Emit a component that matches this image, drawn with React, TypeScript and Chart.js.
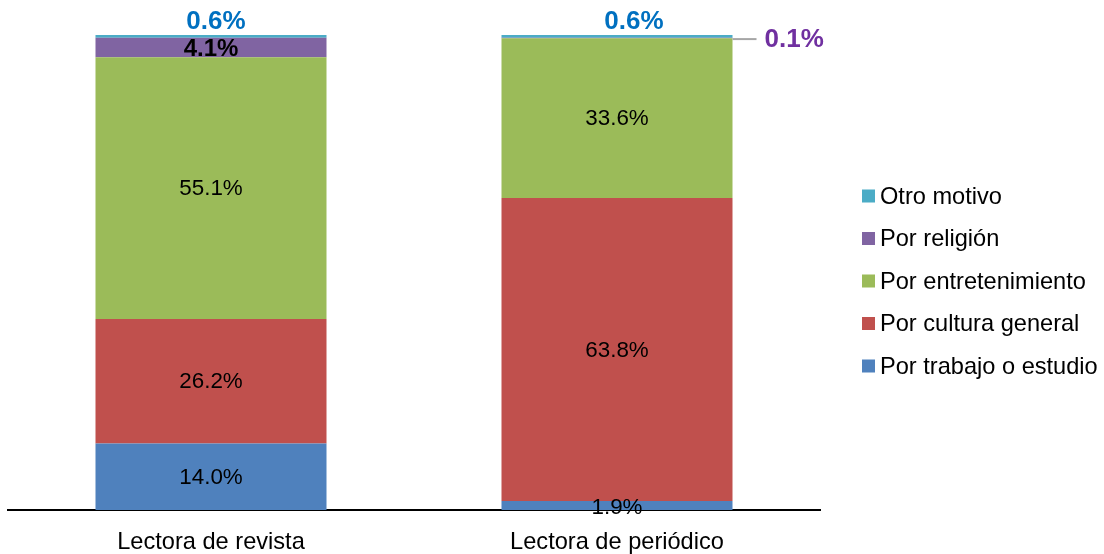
import React, { useEffect, useRef } from "react";
import { Chart, registerables } from "chart.js";

Chart.register(...registerables);

const categories = ["Lectora de revista", "Lectora de periódico"];
const seriesNames = [
  "Por trabajo o estudio",
  "Por cultura general",
  "Por entretenimiento",
  "Por religión",
  "Otro motivo",
];
const trabajo = [14.0, 1.9];
const cultura = [26.2, 63.8];
const entretenimiento = [55.1, 33.6];
const religion = [4.1, 0.1];
const otro = [0.6, 0.6];

const colors = ["#4F81BD", "#C0504D", "#9BBB59", "#8064A2", "#4BACC6"];
const FONT = "'Liberation Sans', Arial, sans-serif";

const labelsPlugin = {
  id: "segLabels",
  afterDatasetsDraw(chart: any) {
    const ctx = chart.ctx;
    ctx.save();
    ctx.textAlign = "center";
    ctx.textBaseline = "middle";
    chart.data.datasets.forEach((ds: any, di: number) => {
      const meta = chart.getDatasetMeta(di);
      meta.data.forEach((el: any, i: number) => {
        const v = ds.data[i];
        const txt = v.toFixed(1) + "%";
        const cx = el.x;
        const cy = (el.y + el.base) / 2;
        if (di === 4) {
          ctx.font = `bold 26px ${FONT}`;
          ctx.fillStyle = "#0070C0";
          ctx.fillText(txt, cx + (i === 0 ? 5 : 17), el.y - 13);
        } else if (di === 3 && i === 1) {
          const right = el.x + el.width / 2;
          ctx.strokeStyle = "#A6A6A6";
          ctx.lineWidth = 2;
          ctx.beginPath();
          ctx.moveTo(right, cy + 1);
          ctx.lineTo(right + 24, cy + 1);
          ctx.stroke();
          ctx.font = `bold 26px ${FONT}`;
          ctx.fillStyle = "#7030A0";
          ctx.textAlign = "left";
          ctx.fillText(txt, right + 32, cy + 2);
          ctx.textAlign = "center";
        } else if (di === 3) {
          ctx.font = `bold 24px ${FONT}`;
          ctx.fillStyle = "#000";
          ctx.fillText(txt, cx, cy + 2);
        } else {
          ctx.font = `22.4px ${FONT}`;
          ctx.fillStyle = "#000";
          ctx.fillText(txt, cx, cy + (i === 1 && di === 0 ? 2 : 1));
        }
      });
    });
    ctx.restore();
  },
};

const legendPlugin = {
  id: "customLegend",
  afterDraw(chart: any) {
    const ctx = chart.ctx;
    ctx.save();
    ctx.font = `23.6px ${FONT}`;
    ctx.textBaseline = "middle";
    ctx.textAlign = "left";
    const n = chart.data.datasets.length;
    for (let k = 0; k < n; k++) {
      const di = n - 1 - k;
      const ds = chart.data.datasets[di];
      const y = 196 + k * 42.5;
      ctx.fillStyle = ds.backgroundColor;
      ctx.fillRect(862, y - 6.5, 13, 13);
      ctx.fillStyle = "#000";
      ctx.fillText(ds.label, 880, y + 1);
    }
    ctx.restore();
  },
};

export default function App() {
  const ref = useRef<HTMLCanvasElement>(null);
  useEffect(() => {
    const sets = [trabajo, cultura, entretenimiento, religion, otro];
    const chart = new Chart(ref.current!, {
      type: "bar",
      data: {
        labels: categories,
        datasets: sets.map((d, i) => ({
          label: seriesNames[i],
          data: d,
          backgroundColor: colors[i],
          borderWidth: 0,
          categoryPercentage: 1,
          barPercentage: 0.569,
        })),
      },
      options: {
        animation: false,
        responsive: false,
        maintainAspectRatio: false,
        layout: { padding: { left: 8, right: 284, top: 35, bottom: 0 } },
        plugins: { legend: { display: false }, tooltip: { enabled: false } },
        scales: {
          x: {
            stacked: true,
            grid: { display: false, drawTicks: false },
            border: { display: true, color: "#000", width: 2 },
            ticks: { color: "#000", font: { family: FONT, size: 23.6 }, padding: 18 },
            afterFit: (s: any) => {
              s.height = 44;
            },
          },
          y: { stacked: true, display: false, min: 0, max: 100 },
        },
      },
      plugins: [labelsPlugin, legendPlugin],
    });
    return () => chart.destroy();
  }, []);
  return (
    <div style={{ position: "fixed", left: 0, top: 0, width: 1104, height: 554, background: "#fff" }}>
      <canvas ref={ref} width={1104} height={554} style={{ width: 1104, height: 554 }} />
    </div>
  );
}
